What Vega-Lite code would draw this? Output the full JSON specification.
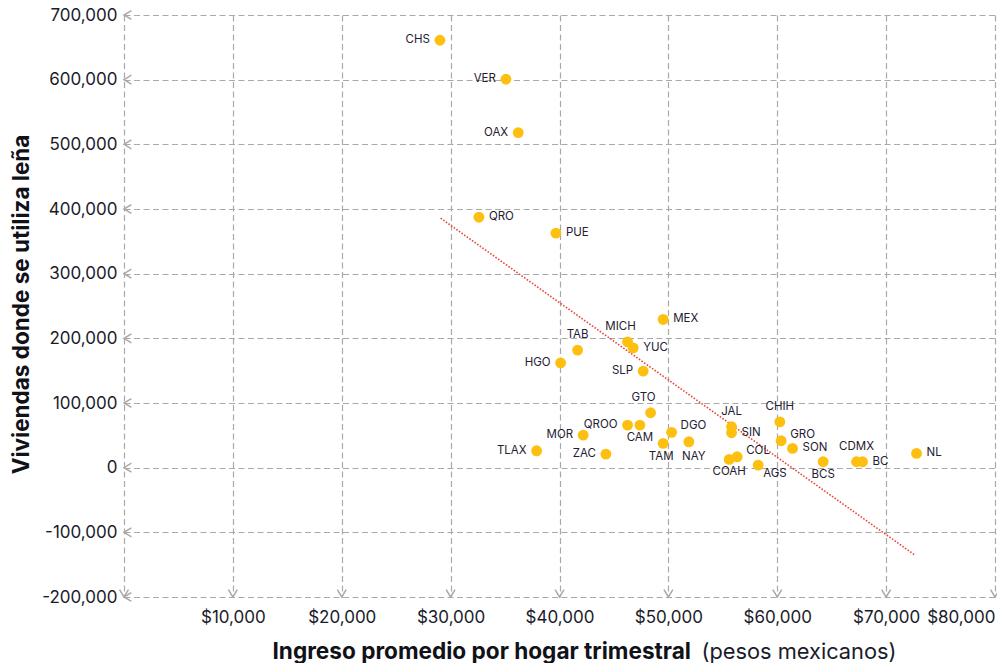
{
  "$schema": "https://vega.github.io/schema/vega-lite/v6.json",
  "width": 871,
  "height": 582,
  "autosize": {"type": "none"},
  "padding": {"left": 124, "top": 15, "right": 2, "bottom": 66},
  "background": "white",
  "config": {
    "view": {"stroke": null},
    "font": "Inter",
    "axis": {
      "domain": false,
      "ticks": false,
      "gridColor": "#a9a9a9",
      "gridDash": [6, 3.5],
      "gridWidth": 1.2,
      "labelFont": "Inter",
      "labelFontSize": 17,
      "labelColor": "#1b1b2a",
      "titleFont": "Inter",
      "titleFontSize": 22,
      "titleFontWeight": "bold",
      "titleColor": "#111118"
    }
  },
  "datasets": {
    "estados": [
      {"estado": "CHS", "ingreso": 29017, "viviendas": 660900},
      {"estado": "VER", "ingreso": 35078, "viviendas": 600600},
      {"estado": "OAX", "ingreso": 36208, "viviendas": 518200},
      {"estado": "QRO", "ingreso": 32599, "viviendas": 387300},
      {"estado": "PUE", "ingreso": 39669, "viviendas": 362600},
      {"estado": "MEX", "ingreso": 49523, "viviendas": 229200},
      {"estado": "TAB", "ingreso": 41662, "viviendas": 181800},
      {"estado": "MICH", "ingreso": 46253, "viviendas": 194600},
      {"estado": "YUC", "ingreso": 46770, "viviendas": 185300},
      {"estado": "HGO", "ingreso": 40101, "viviendas": 162100},
      {"estado": "SLP", "ingreso": 47686, "viviendas": 149300},
      {"estado": "GTO", "ingreso": 48365, "viviendas": 84900},
      {"estado": "QROO", "ingreso": 46253, "viviendas": 65800},
      {"estado": "CAM", "ingreso": 47383, "viviendas": 65800},
      {"estado": "DGO", "ingreso": 50294, "viviendas": 54600},
      {"estado": "TAM", "ingreso": 49523, "viviendas": 37600},
      {"estado": "NAY", "ingreso": 51882, "viviendas": 40000},
      {"estado": "MOR", "ingreso": 42176, "viviendas": 50400},
      {"estado": "ZAC", "ingreso": 44261, "viviendas": 21000},
      {"estado": "TLAX", "ingreso": 37897, "viviendas": 26100},
      {"estado": "JAL", "ingreso": 55803, "viviendas": 63200},
      {"estado": "SIN", "ingreso": 55803, "viviendas": 54000},
      {"estado": "CHIH", "ingreso": 60239, "viviendas": 70900},
      {"estado": "GRO", "ingreso": 60358, "viviendas": 41600},
      {"estado": "SON", "ingreso": 61404, "viviendas": 29800},
      {"estado": "COL", "ingreso": 56320, "viviendas": 16800},
      {"estado": "COAH", "ingreso": 55583, "viviendas": 12800},
      {"estado": "AGS", "ingreso": 58246, "viviendas": 4000},
      {"estado": "BCS", "ingreso": 64215, "viviendas": 9100},
      {"estado": "CDMX", "ingreso": 67281, "viviendas": 9100},
      {"estado": "BC", "ingreso": 67833, "viviendas": 9100},
      {"estado": "NL", "ingreso": 72792, "viviendas": 22100}
    ],
    "tendencia": [
      {"ingreso": 29082, "viviendas": 385800},
      {"ingreso": 72635, "viviendas": -135100}
    ],
    "flechasY": [
      {"ingreso": 0, "viviendas": -200000},
      {"ingreso": 0, "viviendas": -100000},
      {"ingreso": 0, "viviendas": 0},
      {"ingreso": 0, "viviendas": 100000},
      {"ingreso": 0, "viviendas": 200000},
      {"ingreso": 0, "viviendas": 300000},
      {"ingreso": 0, "viviendas": 400000},
      {"ingreso": 0, "viviendas": 500000},
      {"ingreso": 0, "viviendas": 600000},
      {"ingreso": 0, "viviendas": 700000}
    ],
    "flechasX": [
      {"ingreso": 0, "viviendas": -200000},
      {"ingreso": 10000, "viviendas": -200000},
      {"ingreso": 20000, "viviendas": -200000},
      {"ingreso": 30000, "viviendas": -200000},
      {"ingreso": 40000, "viviendas": -200000},
      {"ingreso": 50000, "viviendas": -200000},
      {"ingreso": 60000, "viviendas": -200000},
      {"ingreso": 70000, "viviendas": -200000},
      {"ingreso": 80000, "viviendas": -200000}
    ]
  },
  "resolve": {"axis": {"x": "independent"}},
  "encoding": {
    "x": {
      "field": "ingreso",
      "type": "quantitative",
      "scale": {"domain": [0, 80000], "nice": false, "zero": false},
      "axis": null
    },
    "y": {
      "field": "viviendas",
      "type": "quantitative",
      "scale": {"domain": [-200000, 700000], "nice": false, "zero": false},
      "axis": {
        "values": [-200000, -100000, 0, 100000, 200000, 300000, 400000, 500000, 600000, 700000],
        "labelExpr": "(datum.value < 0 ? '-' : '') + format(abs(datum.value), ',')",
        "labelPadding": 7,
        "grid": true,
        "title": "Viviendas donde se utiliza leña",
        "titleFontSize": 22.5,
        "titleAngle": -90,
        "titleX": -96,
        "titleY": 289,
        "titleAlign": "center",
        "titleBaseline": "alphabetic"
      }
    }
  },
  "layer": [
    {
      "data": {"name": "tendencia"},
      "mark": {"type": "line", "color": "#e8493b", "strokeWidth": 1.6, "strokeDash": [1.6, 1.6]},
      "encoding": {
        "x": {
          "field": "ingreso",
          "type": "quantitative",
          "scale": {"domain": [0, 80000], "nice": false, "zero": false},
          "axis": {
            "orient": "bottom",
            "labels": false,
            "grid": false,
            "title": "(pesos mexicanos)",
            "titleFontWeight": "normal",
            "titleFontSize": 21.8,
            "titleColor": "#1b1b2a",
            "titleX": 577,
            "titleY": 61,
            "titleAlign": "left",
            "titleBaseline": "alphabetic"
          }
        }
      }
    },
    {
      "data": {"name": "estados"},
      "mark": {"type": "circle", "size": 118, "color": "#fdc010", "opacity": 1},
      "encoding": {
        "x": {
          "field": "ingreso",
          "type": "quantitative",
          "scale": {"domain": [0, 80000], "nice": false, "zero": false},
          "axis": {
            "orient": "bottom",
            "grid": true,
            "values": [0, 10000, 20000, 30000, 40000, 50000, 60000, 70000, 80000],
            "labelExpr": "datum.value == 0 ? '' : '$' + format(datum.value, ',')",
            "labelPadding": 12,
            "title": "Ingreso promedio por hogar trimestral",
            "titleFontSize": 22.6,
            "titleX": 148,
            "titleY": 61,
            "titleAlign": "left",
            "titleBaseline": "alphabetic"
          }
        }
      }
    },
    {
      "data": {"name": "flechasY"},
      "mark": {"type": "point", "shape": "M1,-0.6L0,0L1,0.6", "size": 220, "filled": false, "stroke": "#a9a9a9", "strokeWidth": 1.5, "opacity": 1}
    },
    {
      "data": {"name": "flechasX"},
      "mark": {"type": "point", "shape": "M-0.6,-1L0,0L0.6,-1", "size": 220, "filled": false, "stroke": "#a9a9a9", "strokeWidth": 1.5, "opacity": 1}
    },
    {
      "data": {"name": "estados"},
      "transform": [{"filter": {"field": "estado", "oneOf": ["CHS", "VER", "OAX", "HGO", "SLP", "QROO", "MOR", "ZAC", "TLAX"]}}],
      "mark": {"type": "text", "align": "right", "baseline": "middle", "dx": -10, "fontSize": 11.5, "color": "#1f2033"},
      "encoding": {"text": {"field": "estado"}}
    },
    {
      "data": {"name": "estados"},
      "transform": [{"filter": {"field": "estado", "oneOf": ["QRO", "PUE", "MEX", "YUC", "SIN", "SON", "BC", "NL"]}}],
      "mark": {"type": "text", "align": "left", "baseline": "middle", "dx": 10, "fontSize": 11.5, "color": "#1f2033"},
      "encoding": {"text": {"field": "estado"}}
    },
    {
      "data": {"name": "estados"},
      "transform": [{"filter": {"field": "estado", "oneOf": ["DGO", "GRO", "COL"]}}],
      "mark": {"type": "text", "align": "left", "baseline": "middle", "dx": 9, "dy": -6, "fontSize": 11.5, "color": "#1f2033"},
      "encoding": {"text": {"field": "estado"}}
    },
    {
      "data": {"name": "estados"},
      "transform": [{"filter": {"field": "estado", "oneOf": ["TAB", "JAL", "CHIH", "CDMX"]}}],
      "mark": {"type": "text", "align": "center", "baseline": "middle", "dy": -15, "fontSize": 11.5, "color": "#1f2033"},
      "encoding": {"text": {"field": "estado"}}
    },
    {
      "data": {"name": "estados"},
      "transform": [{"filter": {"field": "estado", "oneOf": ["MICH", "GTO"]}}],
      "mark": {"type": "text", "align": "center", "baseline": "middle", "dx": -7, "dy": -15, "fontSize": 11.5, "color": "#1f2033"},
      "encoding": {"text": {"field": "estado"}}
    },
    {
      "data": {"name": "estados"},
      "transform": [{"filter": {"field": "estado", "oneOf": ["CAM", "COAH", "BCS"]}}],
      "mark": {"type": "text", "align": "center", "baseline": "middle", "dy": 13, "fontSize": 11.5, "color": "#1f2033"},
      "encoding": {"text": {"field": "estado"}}
    },
    {
      "data": {"name": "estados"},
      "transform": [{"filter": {"field": "estado", "oneOf": ["TAM"]}}],
      "mark": {"type": "text", "align": "center", "baseline": "middle", "dx": -2, "dy": 14, "fontSize": 11.5, "color": "#1f2033"},
      "encoding": {"text": {"field": "estado"}}
    },
    {
      "data": {"name": "estados"},
      "transform": [{"filter": {"field": "estado", "oneOf": ["NAY"]}}],
      "mark": {"type": "text", "align": "center", "baseline": "middle", "dx": 5, "dy": 15, "fontSize": 11.5, "color": "#1f2033"},
      "encoding": {"text": {"field": "estado"}}
    },
    {
      "data": {"name": "estados"},
      "transform": [{"filter": {"field": "estado", "oneOf": ["AGS"]}}],
      "mark": {"type": "text", "align": "left", "baseline": "middle", "dx": 5, "dy": 9, "fontSize": 11.5, "color": "#1f2033"},
      "encoding": {"text": {"field": "estado"}}
    }
  ]
}
